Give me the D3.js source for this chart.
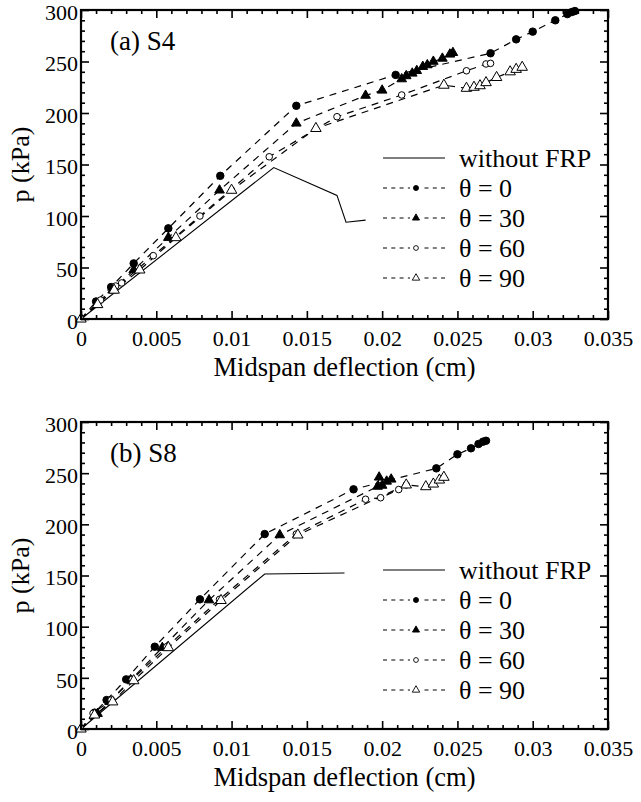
<!DOCTYPE html>
<html>
<head>
<meta charset="utf-8">
<script src="https://cdn.jsdelivr.net/npm/d3@7"></script>
<style>
  body { margin: 0; background: #fff; }
  svg { display: block; }
  .ax line { stroke: #000; stroke-width: 1.6; }
  .ax path { display: none; }
</style>
</head>
<body>
<div id="chart"></div>
<script>
const SERIF = "'Liberation Serif', 'Times New Roman', Times, serif";

// axis ticks
const xTicks = [0, 0.005, 0.01, 0.015, 0.02, 0.025, 0.03, 0.035];
const yTicks = [0, 50, 100, 150, 200, 250, 300];
const xMinor = d3.range(0, 36).filter(i => i % 5 !== 0).map(i => i / 1000);
const yMinor = d3.range(0, 31).filter(i => i % 5 !== 0).map(i => i * 10);

const legendNames = ["without FRP", "\u03b8 = 0", "\u03b8 = 30", "\u03b8 = 60", "\u03b8 = 90"];

// (a) S4 : [deflection cm, p kPa]
const aNoFrp = [[0, 0], [0.0128, 147], [0.0170, 120], [0.0176, 94], [0.0189, 96]];
const aTheta0 = [[0, 0], [0.0010, 17], [0.0020, 31], [0.0035, 54], [0.0058, 88], [0.00925, 139],
  [0.0143, 207], [0.0209, 237], [0.0272, 258], [0.0289, 271.5], [0.0300, 279], [0.0315, 290],
  [0.0323, 296], [0.0326, 298], [0.0328, 299]];
const aTheta30 = [[0, 0], [0.0011, 14], [0.0021, 28], [0.0035, 47.6], [0.0058, 79], [0.0092, 125],
  [0.0143, 190], [0.0189, 217], [0.0200, 222], [0.0213, 233], [0.0216, 236], [0.0220, 238.5],
  [0.0223, 241], [0.0227, 245], [0.0230, 246.6], [0.0234, 250], [0.0240, 253], [0.0245, 257],
  [0.0247, 258.5]];
const aTheta60 = [[0, 0], [0.0013, 18.4], [0.0023, 32], [0.0027, 35], [0.0048, 61.5], [0.0079, 100],
  [0.0125, 157.5], [0.0170, 196.4], [0.0213, 217.5], [0.0256, 241], [0.0269, 247.6], [0.0272, 248.2]];
const aTheta90 = [[0, 0], [0.0011, 14], [0.0022, 28], [0.0039, 47.6], [0.0063, 79], [0.0100, 125],
  [0.0156, 185], [0.0241, 227], [0.0256, 224], [0.0261, 225], [0.0265, 226.5], [0.0269, 229.5],
  [0.0276, 234.5], [0.0285, 240], [0.0289, 242.4], [0.0293, 244.4]];

// (b) S8
const bNoFrp = [[0, 0], [0.0122, 151.5], [0.0175, 152.5]];
const bTheta0 = [[0, 0], [0.0009, 16], [0.0017, 28.3], [0.0030, 48.5], [0.0049, 80.4], [0.0079, 126.7],
  [0.0122, 190.5], [0.0181, 234.2], [0.0236, 254.7], [0.0250, 268.4], [0.0259, 274.3],
  [0.0264, 278.5], [0.0267, 280.8], [0.0269, 281.7]];
const bTheta30 = [[0, 0], [0.0011, 15], [0.0019, 26.7], [0.0033, 47.9], [0.0054, 79.5], [0.0085, 126],
  [0.0132, 189.6], [0.0197, 237], [0.0198, 246], [0.0200, 238], [0.0203, 242], [0.0206, 244]];
const bTheta60 = [[0, 0], [0.0008, 15.3], [0.0020, 28.3], [0.0034, 48.5], [0.0057, 80.4], [0.0092, 126.7],
  [0.0143, 190.5], [0.0189, 224.5], [0.0199, 226], [0.0211, 234], [0.0216, 238.5]];
const bTheta90 = [[0, 0], [0.0009, 13.7], [0.0021, 26.5], [0.0035, 47.2], [0.0058, 79.5], [0.0093, 125.6],
  [0.0144, 189.6], [0.0216, 238.5], [0.0229, 236.8], [0.0234, 239.4], [0.0238, 243.3], [0.0241, 246]];

const W = 641, H = 802;
const svg = d3.select("#chart").append("svg").attr("width", W).attr("height", H);
svg.append("rect").attr("width", W).attr("height", H).attr("fill", "#fff");

// marker styles per theta series
const markers = [
  { type: d3.symbolCircle, size: 44, fill: "#000", legendSize: 20 },
  { type: d3.symbolTriangle, size: 40, fill: "#000", legendSize: 22 },
  { type: d3.symbolCircle, size: 34, fill: "#fff", legendSize: 18 },
  { type: d3.symbolTriangle, size: 48, fill: "#fff", legendSize: 24 }
];

function drawPanel(top, bottom, label, noFrp, thetaSeries) {
  const left = 81, right = 608;
  const x = d3.scaleLinear().domain([0, 0.035]).range([left, right]);
  const y = d3.scaleLinear().domain([0, 300]).range([bottom, top]);
  const g = svg.append("g");
  const fmt = d => String(+d.toFixed(3));

  // data lines
  const line = d3.line().x(d => x(d[0])).y(d => y(d[1]));
  g.append("path").datum(noFrp).attr("d", line)
    .attr("fill", "none").attr("stroke", "#000").attr("stroke-width", 1.1);
  thetaSeries.forEach(s => {
    g.append("path").datum(s).attr("d", line)
      .attr("fill", "none").attr("stroke", "#000").attr("stroke-width", 1.2)
      .attr("stroke-dasharray", "7,6");
  });
  thetaSeries.forEach((s, i) => {
    const m = markers[i];
    const pts = i === 3 ? s : s.slice(1);
    g.selectAll(null).data(pts).enter().append("path")
      .attr("d", d3.symbol(m.type, m.size))
      .attr("transform", d => "translate(" + x(d[0]) + "," + y(d[1]) + ")")
      .attr("fill", m.fill).attr("stroke", "#000").attr("stroke-width", 1);
  });

  // axes, ticks pointing inward on all sides
  const axisG = (tr, axis) => g.append("g").attr("class", "ax")
    .attr("transform", tr).call(axis)
    .attr("font-family", SERIF).attr("font-size", 22);
  const tb = "translate(0," + bottom + ")", tt = "translate(0," + top + ")";
  const tl = "translate(" + left + ",0)", tr = "translate(" + right + ",0)";
  axisG(tb, d3.axisBottom(x).tickValues(xTicks).tickSize(-8).tickPadding(11).tickFormat(fmt));
  axisG(tb, d3.axisBottom(x).tickValues(xMinor).tickSize(-4).tickFormat(""));
  axisG(tt, d3.axisTop(x).tickValues(xTicks).tickSize(-8).tickFormat(""));
  axisG(tt, d3.axisTop(x).tickValues(xMinor).tickSize(-4).tickFormat(""));
  axisG(tl, d3.axisLeft(y).tickValues(yTicks).tickSize(-8).tickPadding(3))
    .selectAll("text").attr("dy", "0.42em");
  axisG(tl, d3.axisLeft(y).tickValues(yMinor).tickSize(-4).tickFormat(""));
  axisG(tr, d3.axisRight(y).tickValues(yTicks).tickSize(-8).tickFormat(""));
  axisG(tr, d3.axisRight(y).tickValues(yMinor).tickSize(-4).tickFormat(""));
  g.selectAll(".ax text").attr("fill", "#000");

  g.append("rect").attr("x", left).attr("y", top)
    .attr("width", right - left).attr("height", bottom - top)
    .attr("fill", "none").attr("stroke", "#000").attr("stroke-width", 2.2);

  // titles
  const txt = () => g.append("text").attr("font-family", SERIF).attr("fill", "#000");
  txt().attr("x", (left + right) / 2).attr("y", bottom + 57)
    .attr("text-anchor", "middle").attr("font-size", 26.5).text("Midspan deflection (cm)");
  txt().attr("transform", "translate(29," + (top + bottom) / 2 + ") rotate(-90)")
    .attr("text-anchor", "middle").attr("font-size", 26).text("p (kPa)");
  txt().attr("x", 110).attr("y", top + 40).attr("font-size", 27).text(label);

  // legend
  const lx0 = 383, lx1 = 445, lmx = 416, ltx = 459;
  legendNames.forEach((name, i) => {
    const ly = top + 148 + i * 30;
    const ln = g.append("line").attr("x1", lx0).attr("x2", lx1).attr("y1", ly).attr("y2", ly)
      .attr("stroke", "#000").attr("stroke-width", 1);
    if (i > 0) {
      ln.attr("stroke-dasharray", "4,4.3");
      const m = markers[i - 1];
      g.append("rect").attr("x", lmx - 6).attr("y", ly - 5).attr("width", 12).attr("height", 10).attr("fill", "#fff");
      g.append("path").attr("d", d3.symbol(m.type, m.legendSize))
        .attr("transform", "translate(" + lmx + "," + ly + ")")
        .attr("fill", m.fill).attr("stroke", "#000").attr("stroke-width", 0.9);
    }
    txt().attr("x", ltx).attr("y", ly).attr("dy", "0.35em")
      .attr("font-size", 26).text(name);
  });
}

drawPanel(10, 319, "(a) S4", aNoFrp, [aTheta0, aTheta30, aTheta60, aTheta90]);
drawPanel(422, 729, "(b) S8", bNoFrp, [bTheta0, bTheta30, bTheta60, bTheta90]);
</script>
</body>
</html>
